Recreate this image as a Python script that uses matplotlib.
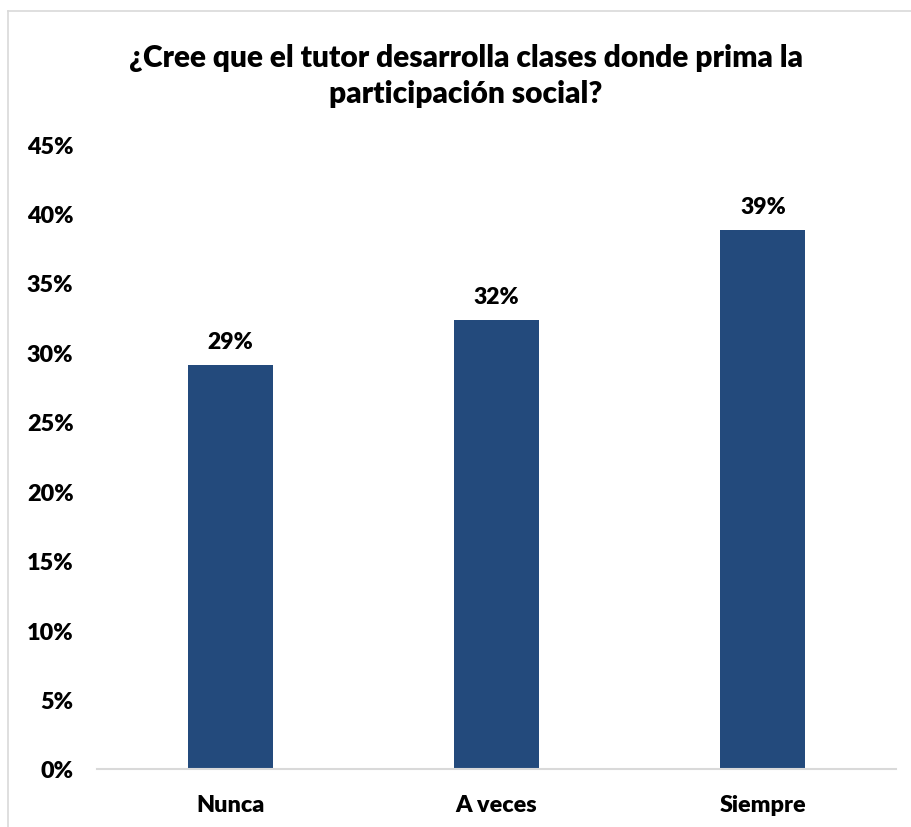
import numpy as np
import matplotlib.pyplot as plt
from matplotlib.lines import Line2D

categories = ["Nunca", "A veces", "Siempre"]
values = [0.291, 0.323, 0.388]
labels = ["29%", "32%", "39%"]
yticks = np.arange(0, 0.46, 0.05)

plt.rcParams["font.family"] = ["Lato", "DejaVu Sans"]
plt.rcParams["font.weight"] = "heavy"

W, H = 911, 828
fig = plt.figure(figsize=(W / 100, H / 100), dpi=100)
ax = fig.add_axes([97 / W, 1 - 770 / H, (896 - 97) / W, (770 - 145) / H])

x = np.arange(len(categories))
bars = ax.bar(x, values, width=0.32, color="#234A7C")
for b, lab in zip(bars, labels):
    ax.annotate(lab, (b.get_x() + b.get_width() / 2, b.get_height()),
                xytext=(0, 17), textcoords="offset points", ha="center",
                va="center", fontsize=16.5, fontweight="heavy")

ax.set_xlim(-0.5, len(categories) - 0.5)
ax.set_ylim(0, 0.45)
ax.set_yticks(yticks)
ax.set_yticklabels([f"{int(round(t * 100))}%" for t in yticks])
ax.set_xticks(x)
ax.set_xticklabels(categories)
ax.tick_params(axis="both", length=0, labelsize=16.8)
ax.tick_params(axis="y", pad=17)
ax.tick_params(axis="x", pad=18)
for s in ["top", "right", "left"]:
    ax.spines[s].set_visible(False)
ax.spines["bottom"].set_color("#D9D9D9")
ax.spines["bottom"].set_linewidth(1.5)

fig.text(466 / W, 1 - 76 / H, "¿Cree que el tutor desarrolla clases donde prima la\nparticipación social?",
         ha="center", va="center", fontsize=21.5, fontweight="heavy", linespacing=1.32)

# chart frame
fig.add_artist(Line2D([7.5 / W, 7.5 / W], [0, 1 - 12 / H], color="#D9D9D9", lw=1.2))
fig.add_artist(Line2D([7.5 / W, 1], [1 - 12 / H, 1 - 12 / H], color="#D9D9D9", lw=1.2))

fig.savefig("out.png", dpi=100)
